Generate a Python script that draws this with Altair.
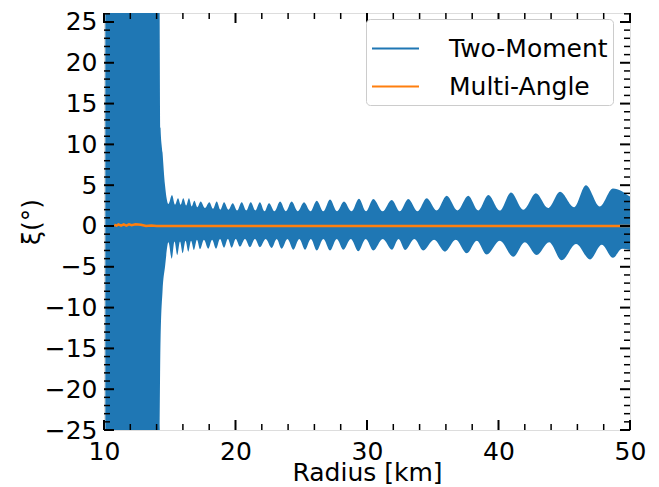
import altair as alt
import pandas as pd

BLUE = "#1f77b4"
ORANGE = "#ff7f0e"
FONT = "DejaVu Sans"
FS = 25

# Two-Moment envelope (upper edge): (radius km, xi deg)
upper_env = [
    (10.1, 30), (14.2, 30), (14.3, 12.0), (14.45, 9.0), (14.64, 5.0), (14.9, 2.7),
    (15.17, 3.8), (15.4, 2.6), (15.63, 3.4), (15.83, 2.6), (16.03, 3.4), (16.25, 2.5),
    (16.46, 3.4), (16.67, 2.4), (16.87, 3.1), (17.1, 2.3), (17.35, 3.0), (17.68, 2.2),
    (18.01, 2.9), (18.29, 2.1), (18.57, 3.0), (18.85, 2.0), (19.13, 2.9), (19.46, 2.0),
    (19.79, 2.8), (20.13, 1.9), (20.47, 2.9), (20.82, 1.9), (21.16, 2.9), (21.51, 1.9),
    (21.86, 2.9), (22.2, 1.8), (22.55, 2.8), (22.97, 1.8), (23.39, 3.0), (23.83, 1.8),
    (24.27, 3.0), (24.74, 1.8), (25.21, 2.9), (25.7, 1.8), (26.18, 3.1), (26.68, 1.8),
    (27.19, 3.25), (27.72, 1.8), (28.25, 3.0), (28.82, 1.8), (29.39, 3.35), (29.93, 1.8),
    (30.48, 3.3), (31.18, 1.8), (31.88, 3.2), (32.5, 1.8), (33.14, 3.3), (33.84, 1.8),
    (34.54, 3.4), (35.3, 1.9), (36.06, 3.7), (36.88, 1.9), (37.7, 3.7), (38.46, 1.9),
    (39.23, 3.8), (40.1, 1.9), (40.95, 4.1), (41.9, 2.0), (42.85, 4.0), (43.77, 2.2),
    (44.68, 4.2), (45.75, 2.3), (46.65, 5.0), (47.7, 2.4), (48.7, 4.6), (50.0, 3.6),
]

# Two-Moment envelope (lower edge)
lower_env = [
    (10.1, -30), (14.2, -30), (14.3, -14.0), (14.45, -8.0), (14.64, -5.0), (14.9, -2.0),
    (15.15, -4.0), (15.36, -1.9), (15.57, -3.56), (15.78, -1.9), (15.98, -3.35), (16.2, -1.8),
    (16.41, -3.15), (16.62, -1.8), (16.84, -2.95), (17.07, -1.7), (17.3, -2.86), (17.6, -1.7),
    (17.93, -2.8), (18.22, -1.7), (18.52, -2.8), (18.82, -1.6), (19.13, -2.66), (19.42, -1.6),
    (19.71, -2.66), (20.02, -1.6), (20.34, -2.54), (20.72, -1.6), (21.1, -2.6), (21.48, -1.6),
    (21.86, -2.6), (22.3, -1.6), (22.75, -2.7), (23.13, -1.6), (23.51, -2.8), (23.95, -1.6),
    (24.4, -2.9), (24.85, -1.6), (25.29, -2.9), (25.73, -1.6), (26.18, -3.0), (26.68, -1.6),
    (27.19, -3.0), (27.7, -1.6), (28.2, -2.9), (28.77, -1.6), (29.34, -3.1), (29.9, -1.6),
    (30.48, -3.0), (31.2, -1.6), (31.9, -2.9), (32.4, -1.6), (32.9, -2.95), (33.6, -1.6),
    (34.28, -3.0), (35.1, -1.7), (35.93, -3.15), (36.75, -1.7), (37.58, -3.35), (38.35, -1.8),
    (39.1, -3.5), (40.1, -1.8), (41.13, -3.77), (42.0, -2.0), (42.9, -3.56), (43.85, -2.0),
    (44.8, -4.2), (45.9, -2.2), (46.96, -4.1), (47.85, -2.3), (48.7, -3.9), (49.4, -2.8),
    (50.0, -2.9),
]

# Multi-Angle curve
multi_angle = [
    (10.78, 0.15), (10.95, 0.05), (11.1, 0.2), (11.3, 0.05), (11.5, 0.2), (11.7, 0.05),
    (11.9, 0.2), (12.1, 0.1), (12.4, 0.2), (12.8, 0.15), (13.2, 0.0), (13.6, 0.05),
    (14.0, 0.0), (20.0, 0.0), (50.0, 0.0),
]

series_names = ["Two-Moment", "Multi-Angle"]
x_major = [10, 20, 30, 40, 50]
x_minor = [v for v in range(10, 51, 2) if v % 10 != 0]
y_major = list(range(-25, 26, 5))
y_minor = [v for v in range(-25, 27) if v % 5 != 0]

W, H = 526, 417
X_DOMAIN = [10, 50]
Y_DOMAIN = [-25, 26.1]

up_df = pd.DataFrame(upper_env, columns=["x", "v"])
lo_df = pd.DataFrame(lower_env, columns=["x", "v"])
ma_df = pd.DataFrame(multi_angle, columns=["x", "v"])
ma_df["series"] = "Multi-Angle"

xs = alt.Scale(domain=X_DOMAIN, nice=False, zero=False)
ys = alt.Scale(domain=Y_DOMAIN, nice=False, zero=False)

MINUS = "replace(datum.label, '-', '\u2212')"

x_axis = alt.Axis(values=x_major, title="Radius [km]", domain=False, ticks=False, grid=False,
                  labelFontSize=FS, labelFont=FONT, labelColor="black", labelPadding=9,
                  titleFontSize=FS, titleFont=FONT, titleColor="black", titleFontWeight="normal",
                  titleY=30, titleBaseline="top", labelFlush=False)
y_axis = alt.Axis(values=y_major, title="ξ(°)", domain=False, ticks=False, grid=False,
                  labelFontSize=FS, labelFont=FONT, labelColor="black", labelPadding=7,
                  labelExpr=MINUS,
                  titleFontSize=FS, titleFont=FONT, titleColor="black", titleFontWeight="normal",
                  titlePadding=0, labelFlush=False)

upper = alt.Chart(up_df).mark_area(color=BLUE, interpolate="monotone", clip=True).encode(
    x=alt.X("x:Q", scale=xs, axis=x_axis),
    y=alt.Y("v:Q", scale=ys, axis=y_axis),
    y2=alt.datum(0),
)
lower = alt.Chart(lo_df).mark_area(color=BLUE, interpolate="monotone", clip=True).encode(
    x=alt.X("x:Q", scale=xs),
    y=alt.Y("v:Q", scale=ys),
    y2=alt.datum(0),
)
line = alt.Chart(ma_df).mark_line(strokeWidth=2.5, clip=True).encode(
    x=alt.X("x:Q", scale=xs),
    y=alt.Y("v:Q", scale=ys),
    color=alt.Color("series:N",
                    scale=alt.Scale(domain=series_names, range=[BLUE, ORANGE]),
                    legend=alt.Legend(title=None, orient="none", legendX=262, legendY=6,
                                      symbolType="stroke", symbolSize=2209, symbolStrokeWidth=2,
                                      labelFontSize=FS, labelFont=FONT, labelColor="black",
                                      labelOffset=29, padding=5, rowPadding=0,
                                      strokeColor="#cccccc", fillColor="white", cornerRadius=4)),
)

xmaj_df = pd.DataFrame({"t": x_major})
xmin_df = pd.DataFrame({"t": x_minor})
ymaj_df = pd.DataFrame({"t": y_major})
ymin_df = pd.DataFrame({"t": y_minor})

def xticks(df, length, width):
    b = alt.Chart(df).mark_rule(color="black", strokeWidth=width).encode(
        x=alt.X("t:Q", scale=xs), y=alt.value(H), y2=alt.value(H - length))
    t = alt.Chart(df).mark_rule(color="black", strokeWidth=width).encode(
        x=alt.X("t:Q", scale=xs), y=alt.value(0), y2=alt.value(length))
    return [b, t]

def yticks(df, length, width):
    l = alt.Chart(df).mark_rule(color="black", strokeWidth=width).encode(
        y=alt.Y("t:Q", scale=ys), x=alt.value(0), x2=alt.value(length))
    r = alt.Chart(df).mark_rule(color="black", strokeWidth=width).encode(
        y=alt.Y("t:Q", scale=ys), x=alt.value(W), x2=alt.value(W - length))
    return [l, r]

tick_layers = (xticks(xmaj_df, 10, 2) + xticks(xmin_df, 6, 1.5)
               + yticks(ymaj_df, 10, 2) + yticks(ymin_df, 6, 1.5))

chart = alt.layer(upper, lower, line, *tick_layers).properties(
    width=W, height=H,
    autosize=alt.AutoSizeParams(type="none"),
    padding={"left": 96, "top": 5, "right": 21, "bottom": 57},
).configure_view(stroke="black", strokeWidth=2.5).configure(background="white")

chart.save("out.html", embed_options={"renderer": "svg", "actions": False})
